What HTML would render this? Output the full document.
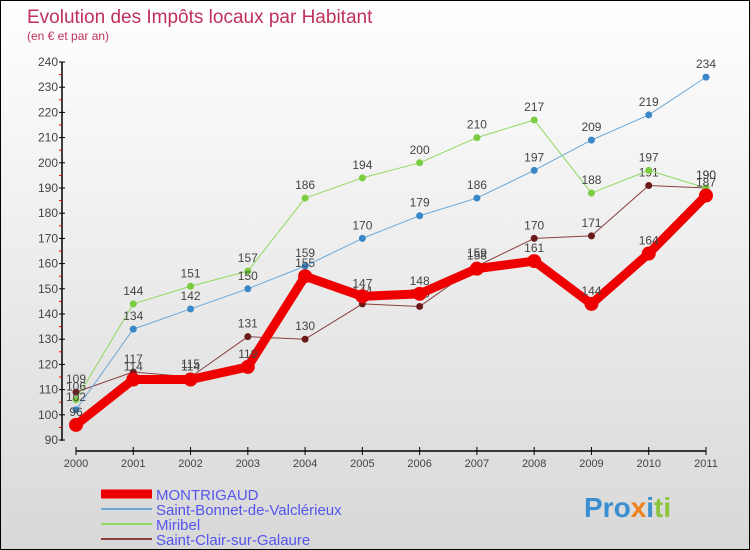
<!DOCTYPE html>
<html><head><meta charset="utf-8"><style>
body{margin:0}
#c{width:750px;height:550px;position:relative;overflow:hidden;box-sizing:border-box;border:1px solid #000;background:linear-gradient(#fff,#d8d8d8);font-family:"Liberation Sans",sans-serif}
</style></head><body>
<div id="c">
<svg id="s" width="750" height="550" style="position:absolute;left:0;top:0">
<text x="26" y="22" font-size="19" fill="#c0305a">Evolution des Impôts locaux par Habitant</text>
<text x="26" y="39" font-size="12" fill="#c0305a">(en € et par an)</text>
<g id="axes"></g><g id="series"></g><g id="legend"></g>
<text x="583" y="516" font-size="28" font-weight="bold" fill="#3a8fd0">Pro<tspan fill="#f08020">x</tspan><tspan fill="#3a8fd0">i</tspan><tspan fill="#8cc43c">ti</tspan></text>
</svg>
</div>
<script>
const years=[2000,2001,2002,2003,2004,2005,2006,2007,2008,2009,2010,2011];
const yTicks=[90,100,110,120,130,140,150,160,170,180,190,200,210,220,230,240];
const montrigaud=[96,114,114,119,155,147,148,158,161,144,164,187];
const saintBonnet=[102,134,142,150,159,170,179,186,197,209,219,234];
const miribel=[106,144,151,157,186,194,200,210,217,188,197,190];
const saintClair=[109,117,115,131,130,144,143,159,170,171,191,190];
const NS="http://www.w3.org/2000/svg";
const X=i=>75+i*(630/11);
const Y=v=>439-(v-90)*(378/150);
function mk(t,a,p){const e=document.createElementNS(NS,t);for(const k in a)e.setAttribute(k,a[k]);p.appendChild(e);return e;}
const ax=document.getElementById('axes');
let l=mk('line',{x1:61,y1:61,x2:61,y2:440,stroke:'#000','stroke-width':1.5},ax);


l=mk('line',{x1:75,y1:450,x2:705,y2:450,stroke:'#000','stroke-width':1.5},ax);


yTicks.forEach((v,i)=>{
 mk('line',{x1:58,x2:64,y1:Y(v),y2:Y(v),stroke:'#000'},ax);
 if(i<yTicks.length-1)mk('line',{x1:58,x2:61,y1:Y(v+5),y2:Y(v+5),stroke:'#e00'},ax);
 const t=mk('text',{x:57,y:Y(v)+4,'font-size':12,'text-anchor':'end',fill:'#444'},ax);t.textContent=v;
 
 
});
years.forEach((y,i)=>{
 mk('line',{x1:X(i),x2:X(i),y1:446,y2:454,stroke:'#000'},ax);
 const t=mk('text',{x:X(i),y:466,'font-size':11,'text-anchor':'middle',fill:'#444'},ax);t.textContent=y;
 
 
});
const sg=document.getElementById('series');
const defs=[
 {d:saintClair,c:'#8a4040',dot:'#6a1a1a',w:1,r:3.5,n:'saint-clair-sur-galaure'},
 {d:miribel,c:'#90d860',dot:'#7acc40',w:1,r:3.5,n:'miribel'},
 {d:saintBonnet,c:'#6aa8d8',dot:'#3a88c8',w:1,r:3.5,n:'saint-bonnet-de-valclerieux'},
 {d:montrigaud,c:'#ee0000',dot:'#ee0000',w:9,r:7,n:'montrigaud'}];
defs.forEach(s=>{
 const g=mk('g',{},sg);
 
 
 const p=mk('polyline',{points:s.d.map((v,i)=>X(i)+','+Y(v)).join(' '),fill:'none',stroke:s.c,'stroke-width':s.w,'stroke-linejoin':'round'},g);
 
 
 s.d.forEach((v,i)=>{
  const c=mk('circle',{cx:X(i),cy:Y(v),r:s.r,fill:s.dot},g);
  
  
  const t=mk('text',{x:X(i),y:Y(v)-9,'font-size':12,'text-anchor':'middle',fill:'#444'},g);t.textContent=v;
  
  
 });
});
const lg=document.getElementById('legend');
const leg=[['MONTRIGAUD','#ee0000',9,493],['Saint-Bonnet-de-Valclérieux','#6aa8d8',2,508],['Miribel','#90d860',2,523],['Saint-Clair-sur-Galaure','#8a4040',2,538]];
leg.forEach(e=>{
 const g=mk('g',{},lg);
 
 
 mk('line',{x1:100,x2:151,y1:e[3],y2:e[3],stroke:e[1],'stroke-width':e[2]},g);
 const t=mk('text',{x:155,y:e[3]+6,'font-size':15,fill:'#5555ee'},g);t.textContent=e[0];
});
</script>
</body></html>
